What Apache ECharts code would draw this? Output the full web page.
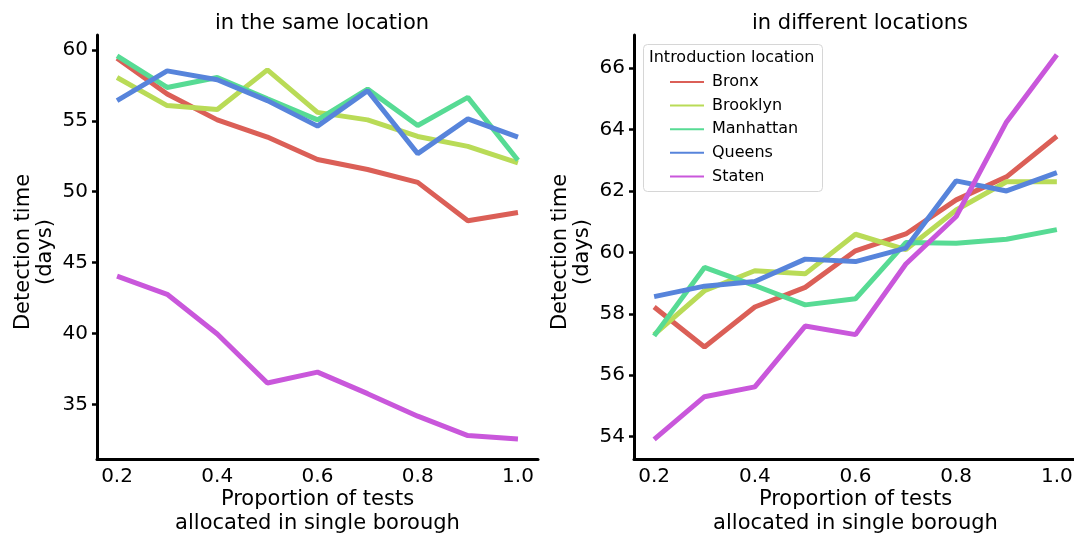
<!DOCTYPE html>
<html>
<head>
<meta charset="utf-8">
<script src="https://cdn.jsdelivr.net/npm/echarts@6/dist/echarts.min.js"></script>
<style>
	html, body {margin:0; padding:0; background:#fff;}
	#main {width:1074px; height:533px;}
</style>
</head>
<body>
<div id="main"></div>
<script>
// data
var proportions = [0.2, 0.3, 0.4, 0.5, 0.6, 0.7, 0.8, 0.9, 1.0];
var boroughs = ['Bronx', 'Brooklyn', 'Manhattan', 'Queens', 'Staten'];
var colors = ['#db5f57', '#b9db57', '#57db94', '#5784db', '#c957db'];

// left panel: introduced in the same location
var sameBronx     = [59.42, 56.90, 55.07, 53.86, 52.27, 51.57, 50.66, 47.95, 48.53];
var sameBrooklyn  = [58.06, 56.08, 55.80, 58.60, 55.60, 55.07, 53.90, 53.20, 52.03];
var sameManhattan = [59.58, 57.36, 58.06, 56.55, 55.07, 57.24, 54.67, 56.66, 52.22];
var sameQueens    = [56.43, 58.53, 57.90, 56.43, 54.63, 57.13, 52.69, 55.14, 53.86];
var sameStaten    = [44.04, 42.76, 39.96, 36.50, 37.27, 35.75, 34.16, 32.79, 32.55];

// right panel: introduced in different locations
var diffBronx     = [58.22, 56.92, 58.22, 58.86, 60.05, 60.60, 61.71, 62.46, 63.78];
var diffBrooklyn  = [57.32, 58.75, 59.40, 59.30, 60.59, 60.09, 61.38, 62.30, 62.30];
var diffManhattan = [57.28, 59.51, 58.92, 58.29, 58.49, 60.32, 60.30, 60.43, 60.74];
var diffQueens    = [58.56, 58.90, 59.05, 59.78, 59.70, 60.14, 62.33, 62.00, 62.60];
var diffStaten    = [53.91, 55.30, 55.62, 57.60, 57.32, 59.62, 61.17, 64.25, 66.44];

var xTicks = [0.2, 0.4, 0.6, 0.8, 1.0];
var yTicksSame = [35, 40, 45, 50, 55, 60];
var yTicksDiff = [54, 56, 58, 60, 62, 64, 66];

var font = 'DejaVu Sans';

function pairs(values){
	var out = [];
	for (var i = 0; i < proportions.length; i++) {
		out.push([proportions[i], values[i]]);
	}
	return out;
}

function makeX(idx){
	return {
		type: 'value',
		gridIndex: idx,
		min: 0.16,
		max: 1.04,
		name: 'Proportion of tests\nallocated in single borough',
		nameLocation: 'middle',
		nameGap: 29,
		nameMoveOverlap: false,
		nameTextStyle: {fontFamily: font, fontSize: 21, lineHeight: 24, color: '#000'},
		axisLine: {show: true, onZero: false, lineStyle: {color: '#000', width: 3}},
		axisTick: {show: false},
		axisLabel: {
			customValues: xTicks,
			fontFamily: font, fontSize: 20, color: '#000', margin: 8,
			formatter: function(v){ return v.toFixed(1); }
		},
		splitLine: {show: false}
	};
}

function makeY(idx, min, max, ticks){
	return {
		type: 'value',
		gridIndex: idx,
		min: min,
		max: max,
		name: 'Detection time\n(days)',
		nameLocation: 'middle',
		nameRotate: 90,
		nameGap: 40,
		nameMoveOverlap: false,
		nameTextStyle: {fontFamily: font, fontSize: 21, lineHeight: 22, color: '#000', padding: [0, 10, 0, 0]},
		axisLine: {show: true, onZero: false, lineStyle: {color: '#000', width: 3}},
		axisTick: {show: true, customValues: ticks, length: 5, lineStyle: {color: '#000', width: 2.5}},
		axisLabel: {customValues: ticks, fontFamily: font, fontSize: 20, color: '#000', margin: 9},
		splitLine: {show: false}
	};
}

function makeSeries(name, values, idx, color){
	return {
		name: name,
		type: 'line',
		xAxisIndex: idx,
		yAxisIndex: idx,
		symbol: 'none',
		animation: false,
		lineStyle: {color: color, width: 5},
		itemStyle: {color: color},
		data: pairs(values)
	};
}

var chart = echarts.init(document.getElementById('main'));
var sameAll = [sameBronx, sameBrooklyn, sameManhattan, sameQueens, sameStaten];
var diffAll = [diffBronx, diffBrooklyn, diffManhattan, diffQueens, diffStaten];
var series = [];
for (var i = 0; i < boroughs.length; i++) {
	series.push(makeSeries(boroughs[i], sameAll[i], 0, colors[i]));
}
for (var j = 0; j < boroughs.length; j++) {
	series.push(makeSeries(boroughs[j], diffAll[j], 1, colors[j]));
}

var option = {
	backgroundColor: '#fff',
	animation: false,
	title: [
		{text: 'in the same location', left: 317, top: 8, textAlign: 'center',
			textStyle: {fontFamily: font, fontSize: 21, fontWeight: 'normal', color: '#000'}},
		{text: 'in different locations', left: 855, top: 8, textAlign: 'center',
			textStyle: {fontFamily: font, fontSize: 21, fontWeight: 'normal', color: '#000'}}
	],
	grid: [
		{left: 97, top: 35, width: 441, height: 424, outerBoundsMode: 'none'},
		{left: 634, top: 35, width: 443, height: 424, outerBoundsMode: 'none'}
	],
	xAxis: [makeX(0), makeX(1)],
	yAxis: [
		makeY(0, 31.14, 61.06, yTicksSame),
		makeY(1, 53.27, 67.08, yTicksDiff)
	],
	legend: {
		orient: 'vertical',
		left: 665,
		top: 67,
		data: boroughs,
		icon: 'rect',
		itemWidth: 34,
		itemHeight: 2,
		itemGap: 3.6,
		selectedMode: false,
		textStyle: {fontFamily: font, fontSize: 16, lineHeight: 20, color: '#000', padding: [0, 0, 0, 3]}
	},
	graphic: [
		{type: 'rect', left: 643, top: 44, z: 0,
			shape: {width: 179, height: 147, r: 4},
			style: {fill: 'rgba(255,255,255,0.8)', stroke: '#d6d6d6', lineWidth: 1}},
		{type: 'text', left: 649, top: 50, z: 1,
			style: {text: 'Introduction location', fontFamily: font, fontSize: 16, fill: '#000'}}
	],
	series: series
};
chart.setOption(option);
</script>
</body>
</html>
